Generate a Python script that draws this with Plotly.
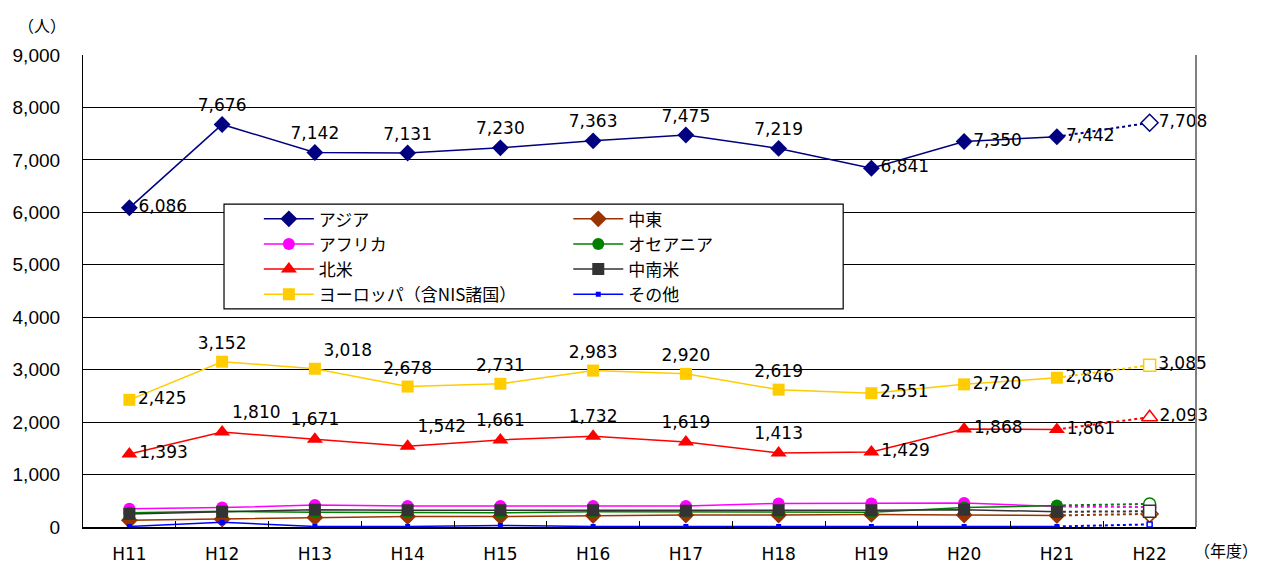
import plotly.graph_objects as go

years = ["H11", "H12", "H13", "H14", "H15", "H16", "H17", "H18", "H19", "H20", "H21", "H22"]

asia = [6086, 7676, 7142, 7131, 7230, 7363, 7475, 7219, 6841, 7350, 7442, 7708]
europe = [2425, 3152, 3018, 2678, 2731, 2983, 2920, 2619, 2551, 2720, 2846, 3085]
north_america = [1393, 1810, 1671, 1542, 1661, 1732, 1619, 1413, 1429, 1868, 1861, 2093]
africa = [350, 370, 420, 400, 400, 400, 400, 450, 450, 460, 390, 380]
oceania = [270, 300, 280, 280, 270, 290, 290, 290, 280, 370, 410, 440]
middle_east = [130, 150, 180, 200, 200, 220, 230, 230, 240, 230, 220, 250]
latin_america = [250, 290, 330, 320, 320, 320, 310, 320, 320, 330, 290, 300]
other = [10, 90, 10, 10, 30, 10, 10, 10, 10, 10, 10, 50]

yticks = [0, 1000, 2000, 3000, 4000, 5000, 6000, 7000, 8000, 9000]

# label positions for the labelled series (H11..H21), H22 always to the right
asia_pos = ["middle right"] + ["top center"] * 7 + ["middle right"] * 3
europe_pos = ["middle right", "top center", "top right", "top center", "top center",
              "top center", "top center", "top center", "middle right", "middle right", "middle right"]
na_pos = ["middle right", "top right", "top center", "top right", "top center",
          "top center", "top center", "top center", "middle right", "middle right", "middle right"]

JP = "Noto Sans CJK JP"
LBL = dict(family="DejaVu Sans", size=17, color="black")

# (name, values, colour, symbol, size, legend, label positions or None)
series = [
    ("アジア", asia, "#000080", "diamond", 13, "legend", asia_pos),
    ("アフリカ", africa, "#FF00FF", "circle", 12, "legend", None),
    ("北米", north_america, "#FF0000", "triangle-up", 14, "legend", na_pos),
    ("ヨーロッパ（含NIS諸国）", europe, "#FFCC00", "square", 12, "legend", europe_pos),
    ("中東", middle_east, "#993300", "diamond", 13, "legend2", None),
    ("オセアニア", oceania, "#008000", "circle", 12, "legend2", None),
    ("中南米", latin_america, "#333333", "square", 12, "legend2", None),
    ("その他", other, "#0000FF", "square", 5, "legend2", None),
]

fig = go.Figure()
for name, vals, col, sym, size, leg, pos in series:
    labelled = pos is not None
    fig.add_trace(go.Scatter(
        x=years[:11], y=vals[:11], name=name, legend=leg,
        mode="lines+markers+text" if labelled else "lines+markers",
        line=dict(color=col, width=1.5),
        marker=dict(symbol=sym, size=size, color=col),
        text=[f"{v:,}" for v in vals[:11]] if labelled else None,
        textposition=pos, textfont=LBL, cliponaxis=False,
    ))
    # H21 -> H22 dotted segment with hollow marker
    fig.add_trace(go.Scatter(
        x=years[10:], y=vals[10:], showlegend=False, legend=leg,
        mode="lines", line=dict(color=col, width=2, dash="dot"),
    ))
    fig.add_trace(go.Scatter(
        x=years[11:], y=vals[11:], showlegend=False, legend=leg,
        mode="markers+text" if labelled else "markers",
        marker=dict(symbol=sym, size=size, color="white", line=dict(color=col, width=1.5)),
        text=[f"{vals[11]:,}"] if labelled else None,
        textposition="middle right", textfont=LBL, cliponaxis=False,
    ))

# legend frame
fig.add_shape(type="rect", xref="paper", yref="paper",
              x0=0.1267, x1=0.683, y0=0.462, y1=0.684,
              fillcolor="white", line=dict(color="black", width=1.2), layer="above")

legend_common = dict(bgcolor="rgba(0,0,0,0)", borderwidth=0, font=dict(family=JP, size=17, color="black"),
                     yanchor="top", xanchor="left", itemwidth=50, tracegroupgap=0)

fig.update_layout(
    width=1268, height=563,
    margin=dict(l=83, r=72, t=55, b=36),
    paper_bgcolor="white", plot_bgcolor="white",
    showlegend=True,
    legend=dict(x=0.158, y=0.69, **legend_common),
    legend2=dict(x=0.436, y=0.69, **legend_common),
    xaxis=dict(
        type="category", range=[-0.5, 11.5], automargin=False,
        tickson="boundaries", ticks="inside", ticklen=6, tickcolor="black",
        showline=True, linecolor="black", linewidth=1.5, showgrid=False,
        tickfont=dict(family="DejaVu Sans", size=17, color="black"),
        ticklabelstandoff=11, zeroline=False,
    ),
    yaxis=dict(
        range=[0, 9000], tickvals=yticks, tickformat=",", automargin=False,
        showgrid=True, gridcolor="black", gridwidth=1,
        showline=True, linecolor="black", linewidth=1.2,
        ticks="", zeroline=False,
        tickfont=dict(family="Liberation Sans", size=19, color="black"),
        ticklabelstandoff=18,
    ),
    annotations=[
        dict(text="（人）", xref="paper", yref="paper", x=-0.037, y=1.064,
             xanchor="center", yanchor="middle",
             showarrow=False, font=dict(family=JP, size=16, color="black")),
        dict(text="（年度）", xref="paper", yref="paper", x=1.027, y=-0.049,
             xanchor="center", yanchor="middle",
             showarrow=False, font=dict(family=JP, size=16, color="black")),
    ],
)

# right-hand frame line
fig.add_shape(type="line", xref="paper", yref="paper", x0=1, x1=1, y0=0, y1=1,
              line=dict(color="#808080", width=2))

fig.write_html("out.html")
